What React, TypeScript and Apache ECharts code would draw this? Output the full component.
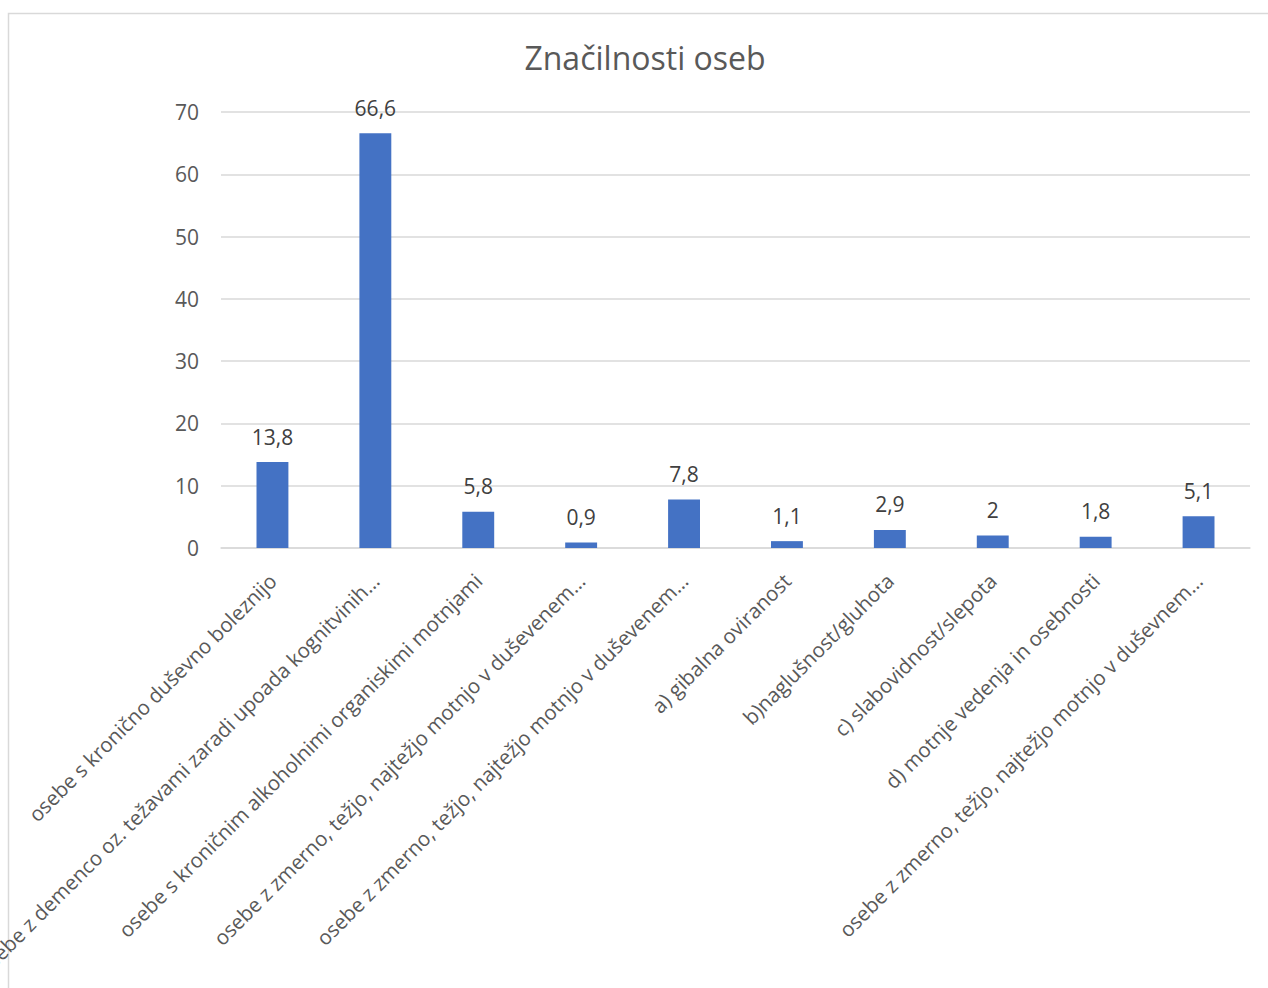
import React, { useEffect, useRef } from "react";
import * as echarts from "echarts";

const chartTitle = "Značilnosti oseb";
const categories = [
  "osebe s kronično duševno boleznijo",
  "osebe z demenco oz. težavami zaradi upoada kognitvinih…",
  "osebe s kroničnim alkoholnimi organiskimi motnjami",
  "osebe z zmerno, težjo, najtežjo motnjo v duševenem…",
  "osebe z zmerno, težjo, najtežjo motnjo v duševenem…",
  "a) gibalna oviranost",
  "b)naglušnost/gluhota",
  "c) slabovidnost/slepota",
  "d) motnje vedenja in osebnosti",
  "osebe z zmerno, težjo, najtežjo motnjo v duševnem…",
];
const values = [13.8, 66.6, 5.8, 0.9, 7.8, 1.1, 2.9, 2, 1.8, 5.1];
const yTicks = { min: 0, max: 70, interval: 10 };

const FONT = "'Open Sans', 'Noto Sans', sans-serif";

export default function App() {
  const ref = useRef<HTMLDivElement>(null);
  useEffect(() => {
    if (!ref.current) return;
    const chart = echarts.init(ref.current, null, { renderer: "svg" });
    chart.setOption({
      animation: false,
      backgroundColor: "#ffffff",
      textStyle: { fontFamily: FONT },
      title: {
        text: chartTitle,
        left: 640,
        top: 36,
        textAlign: "center",
        textStyle: { fontFamily: FONT, fontSize: 32, fontWeight: "normal", color: "#595959" },
      },
      graphic: [
        {
          type: "rect",
          shape: { x: 8.5, y: 13.5, width: 1275, height: 1000 },
          style: { fill: "none", stroke: "#d9d9d9", lineWidth: 1.5 },
          silent: true,
        },
      ],
      grid: {
        left: 221,
        right: 18,
        top: 112,
        bottom: 440,
        containLabel: false,
        outerBoundsMode: "none",
      },
      xAxis: {
        type: "category",
        data: categories,
        axisLine: { show: true, lineStyle: { color: "#d9d9d9", width: 1.5 } },
        axisTick: { show: false },
        axisLabel: {
          interval: 0,
          rotate: 45,
          margin: 29,
          fontSize: 20.5,
          color: "#595959",
          fontFamily: FONT,
        },
      },
      yAxis: {
        type: "value",
        min: yTicks.min,
        max: yTicks.max,
        interval: yTicks.interval,
        axisLine: { show: false },
        axisTick: { show: false },
        splitLine: { lineStyle: { color: "#d9d9d9", width: 1.5 } },
        axisLabel: { fontSize: 21, color: "#595959", margin: 22, fontFamily: FONT },
      },
      series: [
        {
          type: "bar",
          data: values,
          barWidth: "31%",
          itemStyle: { color: "#4472C4" },
          label: {
            show: true,
            position: "top",
            distance: 15,
            fontSize: 21,
            color: "#404040",
            fontFamily: FONT,
            formatter: (p: any) => String(p.value).replace(".", ","),
          },
        },
      ],
    });
    return () => chart.dispose();
  }, []);
  return (
    <div
      ref={ref}
      style={{ position: "absolute", left: 0, top: 0, width: 1268, height: 988 }}
    />
  );
}
